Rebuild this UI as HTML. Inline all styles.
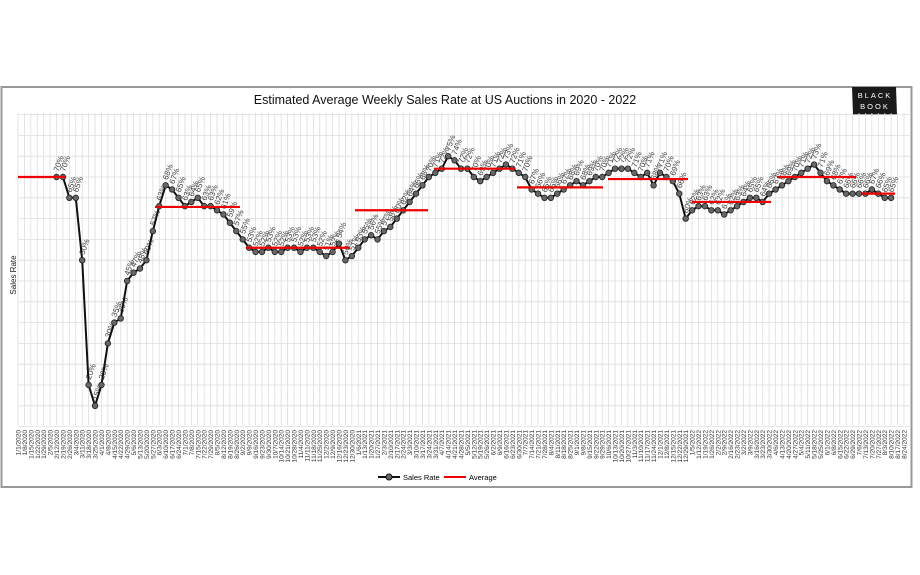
<!DOCTYPE html><html><head><meta charset="utf-8"><style>body{margin:0;background:#fff;width:920px;height:575px;overflow:hidden}svg{display:block;font-family:"Liberation Sans",sans-serif}</style></head><body>
<svg id="s" width="920" height="575" xmlns="http://www.w3.org/2000/svg">
<rect x="1.5" y="87" width="910" height="400" fill="#fff" stroke="#999" stroke-width="2"/>
<text x="445" y="104" text-anchor="middle" font-size="12.5" fill="#111">Estimated Average Weekly Sales Rate at US Auctions in 2020 - 2022</text>
<polygon points="852,87 896,87 897,115 853,115" fill="#1a1a1a"/>
<text x="875" y="98" text-anchor="middle" font-size="7.5" fill="#fff" letter-spacing="2">BLACK</text>
<text x="875" y="109" text-anchor="middle" font-size="7.5" fill="#fff" letter-spacing="2">BOOK</text>
<text transform="translate(16,275) rotate(-90)" text-anchor="middle" font-size="8" fill="#222">Sales Rate</text>
<g id="g"></g>
<g transform="translate(378,477)"><line x1="0" y1="0" x2="22" y2="0" stroke="#111" stroke-width="2"/><circle cx="11" cy="0" r="3" fill="#666" stroke="#111"/><text x="25" y="3" font-size="7.5">Sales Rate</text><line x1="66" y1="0" x2="88" y2="0" stroke="#e00" stroke-width="2"/><text x="91" y="3" font-size="7.5">Average</text></g>
</svg>
<script>
var g=document.getElementById('g'),h='';
var X0=18,DX=6.42,Y=function(v){return 177+(70-v)*4.16};
for(var i=0;i<=139;i++){var x=X0+i*DX;h+='<line x1="'+x+'" y1="113" x2="'+x+'" y2="425" stroke="#ddd" stroke-width="0.8"/>';}
for(var v=10;v<=85;v+=5){h+='<line x1="18" y1="'+Y(v)+'" x2="910" y2="'+Y(v)+'" stroke="#ddd" stroke-width="0.8"/>';}
var d=new Date(2020,0,1);
for(var i=0;i<139;i++){var x=X0+i*DX+2.5;var t=(d.getMonth()+1)+'/'+d.getDate()+'/'+d.getFullYear();h+='<text transform="translate('+x+',430) rotate(-90)" text-anchor="end" font-size="6.5" fill="#333">'+t+'</text>';d.setDate(d.getDate()+7);}
var a=[70,70,65,65,50,20,15,20,30,35,36,45,47,48,50,57,63,68,67,65,63,64,65,63,63,62,61,59,57,55,53,52,52,53,52,52,53,53,52,53,53,52,51,52,54,50,51,53,55,56,55,57,58,60,62,64,66,68,70,71,72,75,74,72,72,70,69,70,71,72,73,72,71,70,67,66,65,65,66,67,68,69,68,69,70,70,71,72,72,72,71,70,71,68,71,70,69,66,60,62,63,63,62,62,61,62,63,64,65,65,64,66,67,68,69,70,71,72,73,71,69,68,67,66,66,66,66,67,66,65,65];
var p='',c='',l='';
for(var i=0;i<a.length;i++){var x=X0+(i+6)*DX,y=Y(a[i]);p+=x+','+y+' ';c+='<circle cx="'+x+'" cy="'+y+'" r="2.8" fill="#666" stroke="#222" stroke-width="0.8"/>';l+='<text transform="translate('+(x+2)+','+(y-5)+') rotate(-70)" font-size="8" fill="#444">'+a[i]+'%</text>';}
var av=[[18,65,70],[155,240,62.8],[246,350,53],[355,428,62],[434,515,72],[517,603,67.5],[608,688,69.5],[692,771,64],[777,856,70],[862,895,66]];
var r='';av.forEach(function(s){r+='<line x1="'+s[0]+'" x2="'+s[1]+'" y1="'+Y(s[2])+'" y2="'+Y(s[2])+'" stroke="#e00" stroke-width="2.2"/>';});
h+=l+'<polyline points="'+p+'" fill="none" stroke="#111" stroke-width="2"/>'+c+r;
g.innerHTML=h;
</script>
</body></html>
